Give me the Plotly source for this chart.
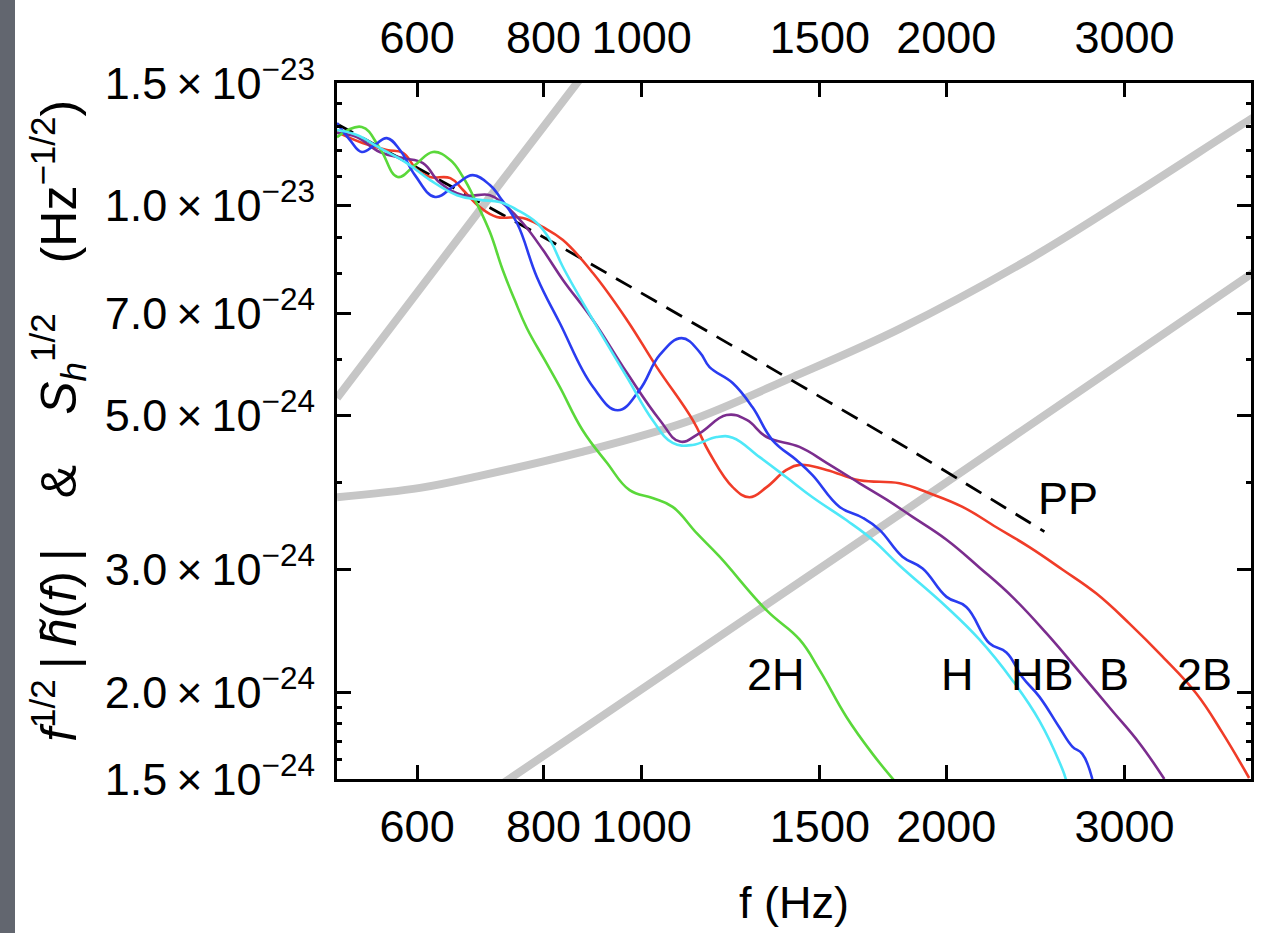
import numpy as np
import plotly.graph_objects as go

# ---------------------------------------------------------------
# Amplitude spectra f^{1/2}|h(f)| (units of 1e-24 Hz^-1/2) vs f (Hz)
# ---------------------------------------------------------------
UNIT = 1e-24

f_2H = [500, 529, 551, 574, 597, 622, 647, 666, 687, 708, 729, 749, 770, 802, 830,
        874, 924, 973, 1025, 1073, 1134, 1194, 1329, 1432, 1499, 1594, 1691, 1778]
a_2H = [12.54, 12.97, 12.10, 10.99, 11.43, 11.94, 11.63, 10.99, 10.08, 9.16, 8.08, 7.32,
        6.67, 6.00, 5.49, 4.76, 4.27, 3.90, 3.80, 3.69, 3.38, 3.13, 2.62, 2.38, 2.15,
        1.84, 1.63, 1.49]

f_HB = [500, 515, 529, 545, 560, 577, 597, 625, 654, 681, 708, 724, 753, 788, 830, 895,
        947, 995, 1042, 1095, 1141, 1167, 1230, 1287, 1347, 1422, 1475, 1569, 1653, 1718,
        1810, 1895, 2001, 2093, 2206, 2293, 2378, 2471, 2586, 2664, 2725, 2788]
a_HB = [13.14, 12.42, 11.94, 12.22, 12.50, 12.02, 11.06, 10.29, 10.70, 11.06, 10.70,
        10.29, 9.44, 7.89, 6.78, 5.49, 5.08, 5.43, 6.10, 6.45, 6.16, 5.86, 5.56, 5.13,
        4.60, 4.31, 4.10, 3.69, 3.56, 3.42, 3.13, 3.01, 2.74, 2.65, 2.35, 2.28, 2.10,
        1.97, 1.78, 1.67, 1.63, 1.50]

f_2B = [500, 530, 560, 581, 600, 618, 647, 666, 692, 719, 763, 799, 836, 895, 967,
        1035, 1123, 1167, 1230, 1278, 1329, 1390, 1432, 1523, 1642, 1798, 1925, 2075,
        2241, 2416, 2604, 2814, 3032, 3269, 3532, 3746, 3983]
a_2B = [12.75, 12.30, 12.02, 11.90, 11.25, 10.99, 10.95, 10.53, 9.95, 9.63, 9.60, 9.31,
        8.92, 8.00, 6.85, 5.86, 4.92, 4.41, 3.94, 3.81, 3.94, 4.17, 4.24, 4.17,
        4.03, 3.99, 3.86, 3.69, 3.45, 3.23, 3.00, 2.77, 2.51, 2.25, 1.99, 1.75, 1.505]

f_B = [500, 523, 551, 581, 608, 632, 666, 708, 729, 763, 799, 836, 895, 967, 1042, 1091,
       1141, 1213, 1270, 1329, 1432, 1523, 1642, 1746, 1852, 2001, 2156, 2324, 2511,
       2706, 2917, 3102, 3284]
a_B = [12.71, 12.54, 11.94, 11.70, 11.51, 10.78, 10.35, 10.35, 10.08, 9.44, 8.63, 7.82,
       6.85, 5.75, 4.92, 4.58, 4.71, 5.00, 4.92, 4.65, 4.50, 4.27, 3.99, 3.78, 3.57,
       3.31, 3.02, 2.74, 2.43, 2.14, 1.88, 1.69, 1.50]

f_H = [500, 523, 551, 586, 618, 657, 692, 724, 753, 788, 812, 836, 895, 967, 1025, 1073,
       1123, 1186, 1230, 1308, 1390, 1475, 1594, 1691, 1798, 2001, 2156, 2324, 2471,
       2604, 2628]
a_H = [12.84, 12.63, 12.10, 11.51, 10.88, 10.35, 10.19, 10.12, 9.86, 9.44, 8.92, 8.16,
       6.85, 5.67, 4.92, 4.56, 4.53, 4.65, 4.64, 4.35, 4.07, 3.81, 3.53, 3.31, 3.04,
       2.65, 2.38, 2.08, 1.82, 1.55, 1.49]

# point-particle (PP) reference spectrum
f_PP = [500, 650, 843, 1250, 1831, 2500]
a_PP = [13.1, 10.63, 8.63, 6.20, 4.48, 3.40]

# detector noise curves S_h^{1/2}
f_noise1 = [500, 724, 950]
a_noise1 = [5.29, 10.74, 18.0]
f_noise2 = [700, 1798, 4100]
a_noise2 = [1.42, 3.60, 8.17]
f_noise3 = [500, 604, 692, 869, 1108, 1410, 1798, 2433, 3053, 3983, 4100]
a_noise3 = [3.81, 3.93, 4.09, 4.42, 4.89, 5.67, 6.65, 8.43, 10.35, 13.27, 13.6]

# axis ticks
x_ticks = [600, 800, 1000, 1500, 2000, 3000]
x_ticktext = ["600", "800", "1000", "1500", "2000", "3000"]
y_ticks = [1.5e-23, 1.0e-23, 7e-24, 5e-24, 3e-24, 2e-24, 1.5e-24]
y_ticktext = ["1.5\u2009\u00d7\u200910<sup>\u221223</sup>",
              "1.0\u2009\u00d7\u200910<sup>\u221223</sup>",
              "7.0\u2009\u00d7\u200910<sup>\u221224</sup>",
              "5.0\u2009\u00d7\u200910<sup>\u221224</sup>",
              "3.0\u2009\u00d7\u200910<sup>\u221224</sup>",
              "2.0\u2009\u00d7\u200910<sup>\u221224</sup>",
              "1.5\u2009\u00d7\u200910<sup>\u221224</sup>"]
y_minor = [1.4e-23, 1.3e-23, 1.2e-23, 1.1e-23, 9e-24, 8e-24, 6e-24, 4e-24,
           1.9e-24, 1.8e-24, 1.7e-24, 1.6e-24]

# curve labels: (text, f, amplitude)
curve_labels = [("2H", 1356, 2.12), ("H", 2051, 2.12), ("HB", 2488, 2.12),
                ("B", 2931, 2.12), ("2B", 3596, 2.12), ("PP", 2640, 3.79)]

FONT = "Liberation Sans, Arial, Helvetica, sans-serif"
FS = 45


def amp(values):
    return [v * UNIT for v in values]


fig = go.Figure()

gray = "#c6c6c6"
for fx, ay in [(f_noise1, a_noise1), (f_noise2, a_noise2), (f_noise3, a_noise3)]:
    fig.add_trace(go.Scatter(x=fx, y=amp(ay), mode="lines",
                             line=dict(color=gray, width=8, shape="spline", smoothing=1.0),
                             hoverinfo="skip", showlegend=False))

fig.add_trace(go.Scatter(x=f_PP, y=amp(a_PP), mode="lines",
                         line=dict(color="black", width=2.8, dash="18px,11px",
                                   shape="spline", smoothing=0.6),
                         showlegend=False))

series = [
    (f_2B, a_2B, "#f03c28"),
    (f_B, a_B, "#7b2d8e"),
    (f_2H, a_2H, "#5ad83a"),
    (f_HB, a_HB, "#2a3cf0"),
    (f_H, a_H, "#4ee8f8"),
]
for fx, ay, col in series:
    fig.add_trace(go.Scatter(x=fx, y=amp(ay), mode="lines",
                             line=dict(color=col, width=2.6, shape="spline", smoothing=1.2),
                             showlegend=False))

# empty trace that carries the top frequency axis
fig.add_trace(go.Scatter(x=[], y=[], xaxis="x2", yaxis="y", showlegend=False))

xr = [np.log10(500), np.log10(4000)]
yr = [np.log10(1.5e-24), np.log10(1.5e-23)]

tick_font = dict(family=FONT, size=FS, color="black")
axis_common = dict(showgrid=False, zeroline=False, showline=True, linecolor="black",
                   linewidth=3, ticks="inside", ticklen=14, tickwidth=2.5,
                   tickcolor="black", mirror="ticks", automargin=False,
                   tickfont=tick_font)

fig.update_layout(
    width=1261, height=933,
    margin=dict(l=337, r=10, t=83, b=154),
    paper_bgcolor="white", plot_bgcolor="white",
    xaxis=dict(type="log", range=xr, tickmode="array", tickvals=x_ticks,
               ticktext=x_ticktext, tickangle=0, ticklabelstandoff=6, **axis_common),
    xaxis2=dict(type="log", range=xr, overlaying="x", side="top", anchor="y",
                tickmode="array", tickvals=x_ticks, ticktext=x_ticktext, tickangle=0,
                showgrid=False, zeroline=False, showline=False, ticks="",
                automargin=False, ticklabelstandoff=20, tickfont=tick_font),
    yaxis=dict(type="log", range=yr, tickmode="array", tickvals=y_ticks,
               ticktext=y_ticktext, ticklabelstandoff=10,
               minor=dict(tickmode="array", tickvals=y_minor, ticks="inside",
                          ticklen=5, tickwidth=2.5, tickcolor="black"),
               **axis_common),
    showlegend=False,
)

# left edge band
fig.add_shape(type="rect", xref="paper", yref="paper", x0=-0.40, x1=-0.3523,
              y0=-0.3, y1=1.3, fillcolor="#62666f", line=dict(width=0), layer="below")

for text, fx, ay in curve_labels:
    fig.add_annotation(x=np.log10(fx), y=np.log10(ay * UNIT), xref="x", yref="y",
                       text=text, showarrow=False, xanchor="center", yanchor="middle",
                       font=dict(family=FONT, size=FS, color="black"))

fig.add_annotation(x=0.5, y=-0.178, xref="paper", yref="paper", text="f (Hz)",
                   showarrow=False, xanchor="center", yanchor="middle",
                   font=dict(family=FONT, size=FS, color="black"))

fig.add_annotation(
    x=-0.305, y=0.515, xref="paper", yref="paper", textangle=-90,
    text=("<i>f</i><sup>1/2</sup>\u2009|\u2009<i>h\u0303</i>(<i>f</i>)\u2009|"
          "\u2003&amp;\u2003<i>S<sub>h</sub></i><sup>1/2</sup>\u2003"
          "(Hz<sup>\u22121/2</sup>)"),
    showarrow=False, xanchor="center", yanchor="middle",
    font=dict(family=FONT, size=50, color="black"))

fig.write_html("out.html")
